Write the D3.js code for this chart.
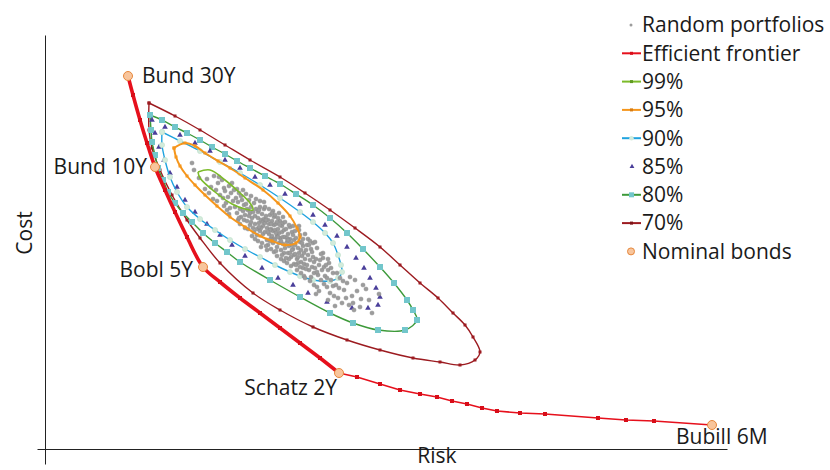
<!DOCTYPE html>
<html>
<head>
<meta charset="utf-8">
<script src="https://cdn.jsdelivr.net/npm/d3@7"></script>
<style>
    body { margin: 0; background: #fff; }
    text { font-family: "Open Sans", Lato, sans-serif; fill: #1a1a1a; font-size: 21px; }
</style>
</head>
<body>
<svg id="chart" width="830" height="470"></svg>
<script>
/**
 * Data: risk (x) and cost (y), in chart units.
 */
const bondNames = ['Bund 30Y', 'Bund 10Y', 'Bobl 5Y', 'Schatz 2Y', 'Bubill 6M'];
const bondRisk = [8.3, 11.0, 15.8, 29.4, 66.7];
const bondCost = [37.3, 28.2, 18.2, 7.6, 2.4];

const frontier = [
    [8.3, 37.3], [8.8, 35.4], [9.5, 32.9], [10.2, 30.6], [11.0, 28.2], [12.0, 25.9], [13.0, 23.7],
    [14.2, 21.2], [15.8, 18.2], [17.5, 16.7], [19.5, 15.1], [21.5, 13.6], [23.5, 12.1], [25.5, 10.6],
    [27.5, 9.1], [29.4, 7.6], [31.2, 7.2], [33.5, 6.5], [35.5, 5.9], [37.5, 5.5], [39.2, 5.2],
    [40.7, 4.8], [42.2, 4.5], [43.7, 4.1], [45.2, 3.8], [47.5, 3.6], [50.0, 3.5], [55.3, 3.1],
    [58.1, 2.9], [60.9, 2.8], [66.7, 2.4]
];

const contour99 = [
    [15.3, 27.7], [16.5, 27.9], [18.0, 26.9], [19.5, 25.6], [20.5, 24.6], [20.8, 23.9], [20.0, 24.0],
    [18.7, 24.5], [17.0, 25.7], [15.5, 27.1], [15.3, 27.7]
];

const contour95 = [
    [12.9, 30.1], [14.0, 30.6], [15.0, 30.3], [16.0, 29.6], [17.3, 28.8], [18.5, 28.1], [20.0, 27.1],
    [21.8, 25.9], [23.3, 24.6], [24.5, 23.3], [25.2, 22.1], [25.5, 21.2], [25.1, 20.6], [24.0, 20.4],
    [22.7, 20.8], [21.5, 21.3], [20.0, 22.2], [18.5, 23.2], [17.2, 24.3], [16.0, 25.4], [15.0, 26.4],
    [14.2, 27.3], [13.5, 28.3], [13.1, 29.2], [12.9, 30.1]
];

const contour90 = [
    [11.7, 31.7], [13.5, 30.8], [15.5, 29.8], [17.5, 28.7], [19.5, 27.6], [21.5, 26.4], [23.5, 25.1],
    [25.5, 23.7], [26.8, 22.7], [28.0, 21.6], [28.8, 20.6], [29.3, 19.4], [29.6, 18.4], [29.7, 17.7],
    [29.3, 17.1], [28.5, 16.8], [26.8, 16.9], [25.5, 17.3], [24.5, 17.7], [23.0, 18.4], [21.5, 19.2],
    [20.0, 20.0], [18.5, 20.9], [17.0, 21.9], [15.5, 23.0], [14.2, 24.2], [13.2, 25.7], [12.5, 27.2],
    [12.0, 28.9], [11.7, 30.4], [11.7, 31.7]
];

const contour85 = [
    [10.7, 32.9], [12.0, 32.2], [13.5, 31.4], [15.0, 30.6], [16.5, 29.8], [18.0, 28.9], [19.5, 28.1],
    [21.0, 27.2], [22.5, 26.4], [24.0, 25.5], [25.5, 24.5], [26.8, 23.4], [28.0, 22.4], [29.2, 21.3],
    [30.2, 20.2], [31.1, 19.1], [31.9, 18.1], [32.5, 17.1], [33.1, 16.1], [33.5, 15.2], [33.3, 14.4],
    [32.3, 14.1], [30.7, 14.1], [28.2, 14.7], [26.3, 15.6], [24.8, 16.4], [23.3, 17.1], [21.7, 18.1],
    [20.0, 19.3], [18.7, 20.4], [17.5, 21.4], [16.2, 22.5], [15.0, 23.7], [14.0, 24.9], [13.2, 26.2],
    [12.5, 27.6], [11.9, 28.9], [11.4, 30.2], [11.0, 31.6]
];

const contour80 = [
    [10.5, 33.4], [11.7, 32.9], [13.0, 32.2], [14.2, 31.6], [15.5, 30.9], [16.7, 30.2], [18.0, 29.5],
    [19.2, 28.8], [20.5, 28.1], [22.0, 27.3], [23.5, 26.5], [25.1, 25.5], [26.8, 24.4], [28.5, 23.1],
    [30.2, 21.6], [31.8, 20.0], [33.5, 18.2], [34.9, 16.6], [36.2, 14.9], [36.8, 13.9], [37.2, 12.9],
    [36.0, 11.9], [33.3, 11.9], [30.8, 12.6], [28.5, 13.6], [25.5, 15.2], [22.5, 16.9], [19.5, 18.7],
    [18.2, 19.7], [17.0, 20.6], [15.8, 21.6], [14.7, 22.7], [13.8, 23.6], [13.0, 24.6], [12.3, 25.7],
    [11.8, 26.9], [11.3, 28.1], [11.0, 29.4], [10.7, 30.7], [10.6, 31.9], [10.5, 33.4]
];

const contour70 = [
    [10.4, 34.6], [13.0, 33.3], [15.5, 31.9], [18.0, 30.4], [20.5, 28.9], [23.5, 27.2], [26.0, 25.6],
    [28.5, 23.9], [31.0, 22.1], [33.5, 20.2], [35.5, 18.4], [37.5, 16.6], [39.3, 15.1], [40.8, 13.6],
    [42.0, 12.4], [42.8, 11.2], [43.5, 9.7], [43.0, 8.9], [41.5, 8.4], [39.5, 8.7], [36.8, 9.1],
    [33.5, 9.9], [30.2, 10.9], [26.8, 12.2], [23.5, 13.9], [20.8, 15.6], [17.5, 18.6], [15.5, 21.1],
    [14.2, 22.9], [12.7, 25.4], [11.5, 27.9], [10.7, 30.1], [10.4, 31.9], [10.4, 34.6]
];

const randomPortfolios = [
    [14.7, 28.6], [14.9, 27.9], [15.4, 27.1], [16.0, 26.0], [16.8, 25.0], [17.4, 27.2], [17.9, 24.3],
    [18.7, 26.6], [18.4, 23.5],
    [16.2, 27.0], [16.6, 26.2], [16.9, 27.3], [17.1, 25.9], [16.4, 25.6],
    [17.3, 26.6], [17.5, 25.4], [17.7, 26.9], [17.8, 25.1], [17.9, 26.1], [17.2, 24.8],
    [18.0, 25.8], [18.1, 24.6], [18.3, 25.2], [18.4, 26.3], [18.5, 24.1], [18.6, 25.6], [18.8, 24.8],
    [18.9, 25.9], [18.2, 23.9],
    [19.0, 24.2], [19.1, 25.1], [19.2, 23.6], [19.3, 24.7], [19.4, 25.6], [19.5, 24.0], [19.6, 23.2],
    [19.7, 24.9], [19.8, 23.8], [19.9, 24.4], [19.3, 22.9], [19.6, 25.3],
    [19.2, 26.0], [19.5, 22.5], [19.8, 25.9], [19.9, 22.9], [19.4, 23.1],
    [20.0, 23.4], [20.1, 24.5], [20.2, 22.8], [20.3, 23.9], [20.4, 24.9], [20.5, 22.4], [20.5, 23.6],
    [20.6, 24.2], [20.7, 23.1], [20.8, 22.1], [20.9, 24.6], [20.2, 24.0], [20.4, 23.3], [20.8, 23.7],
    [20.6, 22.7], [20.1, 25.5], [20.3, 22.0], [20.6, 25.3], [20.9, 21.7], [20.0, 22.1], [20.7, 21.3],
    [21.0, 23.3], [21.0, 22.5], [21.1, 24.0], [21.2, 22.0], [21.3, 23.1], [21.3, 23.7], [21.4, 22.6],
    [21.5, 21.8], [21.5, 24.2], [21.6, 22.9], [21.7, 23.5], [21.8, 22.3], [21.8, 21.5], [21.9, 23.0],
    [21.9, 24.0], [21.2, 21.4], [21.6, 22.1], [21.4, 23.9],
    [21.1, 25.0], [21.3, 20.8], [21.5, 24.8], [21.7, 20.6], [21.9, 24.7], [21.0, 21.0], [21.6, 20.2],
    [21.4, 22.2], [21.8, 22.7],
    [22.0, 22.6], [22.0, 21.7], [22.1, 23.3], [22.2, 22.1], [22.2, 20.9], [22.3, 22.9], [22.4, 21.5],
    [22.4, 22.5], [22.5, 23.4], [22.6, 21.1], [22.6, 22.0], [22.7, 22.8], [22.8, 20.6], [22.8, 21.8],
    [22.9, 22.4], [22.9, 23.2], [22.3, 20.4], [22.5, 21.9], [22.7, 21.3], [22.1, 22.9],
    [22.0, 24.2], [22.2, 19.9], [22.4, 24.0], [22.6, 20.0], [22.8, 23.8], [22.9, 19.7], [22.1, 20.3],
    [22.5, 20.8], [22.7, 23.6], [22.3, 21.7], [22.6, 22.5], [22.9, 21.0],
    [23.0, 21.9], [23.0, 20.9], [23.1, 22.5], [23.2, 21.3], [23.2, 20.2], [23.3, 22.0], [23.4, 21.6],
    [23.4, 20.6], [23.5, 22.8], [23.5, 21.1], [23.6, 19.9], [23.7, 21.7], [23.7, 22.3], [23.8, 20.5],
    [23.8, 21.2], [23.9, 21.9], [23.9, 19.6], [23.1, 21.6], [23.6, 20.8], [23.3, 23.1],
    [23.0, 23.4], [23.2, 19.3], [23.4, 23.6], [23.6, 19.0], [23.8, 23.2], [23.9, 18.8], [23.1, 19.8],
    [23.5, 22.4], [23.7, 19.4], [23.3, 21.2], [23.8, 22.6], [23.2, 22.7],
    [24.0, 21.2], [24.0, 20.1], [24.1, 22.0], [24.2, 20.7], [24.3, 19.6], [24.3, 21.5], [24.4, 20.3],
    [24.5, 21.0], [24.6, 19.2], [24.6, 20.6], [24.7, 21.7], [24.8, 20.0], [24.9, 20.9], [24.9, 19.4],
    [24.2, 21.1], [24.5, 22.2], [24.7, 19.9], [24.4, 19.0],
    [24.0, 22.7], [24.2, 18.6], [24.4, 22.4], [24.6, 18.3], [24.8, 22.3], [24.9, 18.5], [24.1, 19.1],
    [24.3, 20.9], [24.7, 20.4], [24.5, 19.6], [24.8, 21.4],
    [25.0, 20.4], [25.0, 19.5], [25.1, 21.1], [25.2, 19.0], [25.3, 20.1], [25.4, 19.6], [25.5, 20.7],
    [25.6, 18.7], [25.6, 19.9], [25.7, 19.3], [25.8, 20.3], [25.9, 18.5], [25.9, 19.6], [25.3, 18.6],
    [25.5, 21.4], [25.8, 18.1],
    [25.0, 21.8], [25.2, 17.9], [25.4, 21.9], [25.6, 17.6], [25.8, 21.0], [25.9, 17.3], [25.1, 18.4],
    [25.3, 19.2], [25.7, 20.6], [25.5, 18.2],
    [26.0, 19.0], [26.1, 19.9], [26.2, 18.4], [26.3, 19.4], [26.4, 17.9], [26.5, 18.9], [26.6, 20.0],
    [26.7, 18.2], [26.8, 19.2], [26.9, 17.6], [26.2, 20.4], [26.6, 17.2], [26.9, 18.7],
    [26.0, 17.1], [26.3, 21.0], [26.5, 16.8], [26.7, 19.7], [26.9, 16.4], [26.1, 18.0], [26.4, 20.4],
    [26.8, 20.6],
    [26.0, 21.5], [26.5, 20.8], [27.2, 20.1], [25.4, 22.3], [27.8, 19.6], [28.3, 19.0],
    [27.0, 18.1], [27.1, 19.0], [27.3, 17.4], [27.4, 18.4], [27.6, 16.9], [27.7, 17.9], [27.8, 19.1],
    [27.9, 16.5], [27.2, 16.2], [27.5, 18.9],
    [27.0, 20.7], [27.2, 17.7], [27.4, 15.8], [27.6, 19.5], [27.9, 18.2], [27.1, 15.5],
    [28.0, 17.3], [28.2, 16.2], [28.3, 17.9], [28.5, 15.6], [28.6, 16.9], [28.8, 17.6], [28.9, 15.3],
    [28.4, 18.6], [28.1, 18.4], [28.3, 14.9], [28.6, 18.1], [28.8, 16.3], [28.2, 17.1],
    [29.1, 16.4], [29.3, 15.1], [29.5, 17.1], [29.7, 14.6], [29.9, 15.9],
    [29.2, 17.6], [29.4, 16.1], [29.8, 16.8], [29.0, 14.3],
    [30.2, 16.6], [30.4, 14.4], [30.7, 15.3], [30.9, 13.9], [30.1, 15.1], [30.5, 17.2], [30.8, 14.6],
    [31.2, 15.8], [31.5, 14.2], [31.8, 16.4], [31.0, 16.9], [31.6, 15.0],
    [32.4, 14.9], [32.7, 13.6], [33.4, 15.5], [32.1, 16.0]
];

const legendLabels = ['Random portfolios', 'Efficient frontier', '99%', '95%', '90%', '85%', '80%', '70%', 'Nominal bonds'];

/**
 * Visual configs.
 */
const colors = {
    random: '#9c9c9c',
    frontier: '#e6101c',
    c99: '#7cbb2a',
    c95: '#f5961c',
    c90: '#1fa3df',
    c90Marker: '#d3ebdb',
    c85: '#4a3e9a',
    c80: '#3d9a3a',
    c80Marker: '#72c6cb',
    c70: '#9c1b20',
    bondFill: '#f8c59c',
    bondStroke: '#e6873c'
};

// label offsets from each bond marker: dx, dy, anchor
const bondLabelLayout = [[14, 7, 'start'], [-8, 7, 'end'], [-10, 10, 'end'], [-2, 22, 'end'], [-36, 19, 'start']];

const svg = d3.select('#chart');

const x = d3.scaleLinear().domain([-0.8, 68.2]).range([37, 727]);
const y = d3.scaleLinear().domain([-1.5, 41.4]).range([464, 35]);

const line = d3.line().x(d => x(d[0])).y(d => y(d[1]));
const smooth = d3.line().x(d => x(d[0])).y(d => y(d[1])).curve(d3.curveCatmullRom.alpha(0.5));

// Axes: plain lines, no ticks
svg.append('g')
    .attr('transform', 'translate(0,' + y(0) + ')')
    .call(d3.axisBottom(x).tickValues([]).tickSizeOuter(0))
    .select('.domain').attr('stroke', '#222');
svg.append('g')
    .attr('transform', 'translate(' + x(0) + ',0)')
    .call(d3.axisLeft(y).tickValues([]).tickSizeOuter(0))
    .select('.domain').attr('stroke', '#222');

svg.append('text')
    .attr('transform', 'translate(32,' + 233 + ') rotate(-90)')
    .attr('text-anchor', 'middle')
    .text('Cost');
svg.append('text')
    .attr('x', 437).attr('y', 463)
    .attr('text-anchor', 'middle')
    .text('Risk');

const plot = svg.append('g');

// 70%
plot.append('path').attr('d', smooth(contour70))
    .attr('fill', 'none').attr('stroke', colors.c70).attr('stroke-width', 1.4);
plot.append('g').selectAll('rect').data(contour70).join('rect')
    .attr('x', d => x(d[0]) - 1.5).attr('y', d => y(d[1]) - 1.5)
    .attr('width', 3).attr('height', 3).attr('fill', colors.c70);

// 80%
plot.append('path').attr('d', smooth(contour80))
    .attr('fill', 'none').attr('stroke', colors.c80).attr('stroke-width', 1.4);
plot.append('g').selectAll('rect').data(contour80).join('rect')
    .attr('x', d => x(d[0]) - 3).attr('y', d => y(d[1]) - 3)
    .attr('width', 6).attr('height', 6).attr('fill', colors.c80Marker);

// 85%: markers only
plot.append('g').selectAll('path').data(contour85).join('path')
    .attr('transform', d => 'translate(' + x(d[0]) + ',' + y(d[1]) + ')')
    .attr('d', d3.symbol(d3.symbolTriangle, 14))
    .attr('fill', colors.c85);

// 90%
plot.append('path').attr('d', smooth(contour90))
    .attr('fill', 'none').attr('stroke', colors.c90).attr('stroke-width', 1.4);
plot.append('g').selectAll('circle').data(contour90).join('circle')
    .attr('cx', d => x(d[0])).attr('cy', d => y(d[1])).attr('r', 2.6)
    .attr('fill', colors.c90Marker).attr('stroke', '#bfe0cc').attr('stroke-width', 0.6);

// Random portfolios
plot.append('g').selectAll('circle').data(randomPortfolios).join('circle')
    .attr('cx', d => x(d[0])).attr('cy', d => y(d[1])).attr('r', 2.1)
    .attr('fill', colors.random).attr('stroke', '#838383').attr('stroke-width', 0.4);

// 95%
plot.append('path').attr('d', smooth(contour95))
    .attr('fill', 'none').attr('stroke', colors.c95).attr('stroke-width', 2);
plot.append('g').selectAll('rect').data(contour95).join('rect')
    .attr('x', d => x(d[0]) - 1.5).attr('y', d => y(d[1]) - 1.5)
    .attr('width', 3).attr('height', 3).attr('fill', colors.c95);

// 99%
plot.append('path').attr('d', smooth(contour99))
    .attr('fill', 'none').attr('stroke', colors.c99).attr('stroke-width', 1.6);

// Efficient frontier: heavier up to Schatz 2Y
plot.append('path').attr('d', smooth(frontier.slice(0, 16)))
    .attr('fill', 'none').attr('stroke', colors.frontier).attr('stroke-width', 3.6);
plot.append('path').attr('d', line(frontier.slice(15)))
    .attr('fill', 'none').attr('stroke', colors.frontier).attr('stroke-width', 1.6);
plot.append('g').selectAll('rect').data(frontier).join('rect')
    .attr('x', d => x(d[0]) - 2).attr('y', d => y(d[1]) - 2)
    .attr('width', 4).attr('height', 4).attr('fill', '#d80d18');

// Nominal bonds
const bonds = bondNames.map((name, i) => ({ name: name, risk: bondRisk[i], cost: bondCost[i], layout: bondLabelLayout[i] }));
const bondG = plot.append('g').selectAll('g').data(bonds).join('g')
    .attr('transform', d => 'translate(' + x(d.risk) + ',' + y(d.cost) + ')');
bondG.append('circle').attr('r', 4.5)
    .attr('fill', colors.bondFill).attr('stroke', colors.bondStroke).attr('stroke-width', 1);
bondG.append('text')
    .attr('x', d => d.layout[0]).attr('y', d => d.layout[1])
    .attr('text-anchor', d => d.layout[2])
    .text(d => d.name);

/**
 * Legend.
 */
const legendSymbols = [
    { marker: 'dot', color: colors.random },
    { line: colors.frontier, marker: 'square', color: '#d80d18' },
    { line: colors.c99, marker: 'square', color: '#5f9a20' },
    { line: colors.c95, marker: 'square', color: '#d97c10' },
    { line: colors.c90, marker: 'circle', color: colors.c90Marker },
    { marker: 'triangle', color: colors.c85 },
    { line: colors.c80, marker: 'bigsquare', color: colors.c80Marker },
    { line: colors.c70, marker: 'square', color: '#7d1317' },
    { marker: 'bond', color: colors.bondFill }
];

const legend = svg.append('g').selectAll('g').data(legendLabels).join('g')
    .attr('transform', (d, i) => 'translate(622,' + (25 + i * 28.3) + ')');

legend.each(function(d, i) {
    const g = d3.select(this), s = legendSymbols[i];
    if (s.line) {
        g.append('line').attr('x1', 0).attr('x2', 19)
            .attr('stroke', s.line).attr('stroke-width', 2);
    }
    if (s.marker === 'dot') {
        g.append('circle').attr('cx', 9).attr('r', 1.5).attr('fill', s.color);
    } else if (s.marker === 'square') {
        g.append('rect').attr('x', 8).attr('y', -1.5).attr('width', 3).attr('height', 3).attr('fill', s.color);
    } else if (s.marker === 'bigsquare') {
        g.append('rect').attr('x', 7).attr('y', -2.5).attr('width', 5).attr('height', 5).attr('fill', s.color);
    } else if (s.marker === 'circle') {
        g.append('circle').attr('cx', 9.5).attr('r', 2.2).attr('fill', s.color);
    } else if (s.marker === 'triangle') {
        g.append('path').attr('transform', 'translate(10,0)')
            .attr('d', d3.symbol(d3.symbolTriangle, 10)).attr('fill', s.color);
    } else if (s.marker === 'bond') {
        g.append('circle').attr('cx', 9).attr('r', 3.5)
            .attr('fill', s.color).attr('stroke', colors.bondStroke).attr('stroke-width', 1);
    }
    g.append('text').attr('x', 20).attr('dy', '0.35em')
        .text(d);
});
</script>
</body>
</html>
